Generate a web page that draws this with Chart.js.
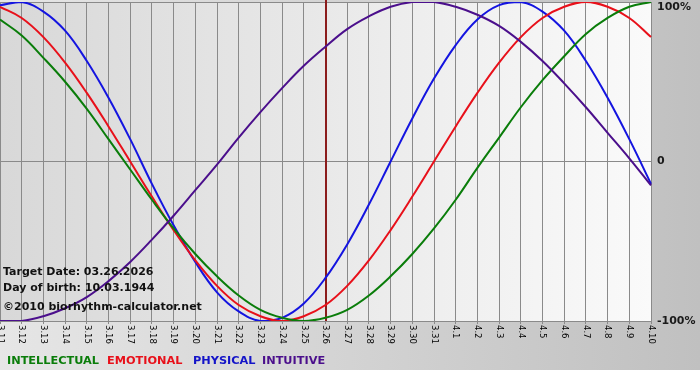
<!DOCTYPE html>
<html><head><meta charset="utf-8">
<script src="https://cdn.jsdelivr.net/npm/chart.js@4"></script>
<style>html,body{margin:0;padding:0;background:#fff}canvas{display:block}</style>
</head><body>
<canvas id="c" width="700" height="380"></canvas>
<script>
const days = ['3.11','3.12','3.13','3.14','3.15','3.16','3.17','3.18','3.19','3.20','3.21','3.22','3.23','3.24','3.25','3.26','3.27','3.28','3.29','3.30','3.31','4.1','4.2','4.3','4.4','4.5','4.6','4.7','4.8','4.9','4.10'];
const intellectual = [89,79,65,50,33,14,-5,-24,-42,-58,-72,-84,-93,-98,-100,-98,-93,-84,-72,-58,-42,-24,-4,15,34,51,66,80,90,97,100];
const emotional = [97,90,78,62,43,22,0,-22,-43,-62,-78,-90,-97,-100,-97,-90,-78,-62,-43,-22,0,22,43,62,78,90,97,100,97,90,78];
const physical = [98,100,94,82,63,40,14,-14,-40,-63,-82,-94,-100,-98,-89,-73,-52,-27,0,27,52,73,89,98,100,94,82,63,40,14,-14];
const intuitive = [-100,-100,-97,-92,-85,-75,-63,-49,-34,-18,-2,15,31,46,60,72,83,91,97,100,100,97,92,85,75,63,49,34,18,2,-15];
const yTickValues = [100, 0, -100];
const yTickLabels = ['100%', '0', '-100%'];
const legendNames = ['INTELLECTUAL', 'EMOTIONAL', 'PHYSICAL', 'INTUITIVE'];
const legendColors = ['#0a7d0a', '#e8101a', '#1414c8', '#4b0f8c'];
const targetDay = '3.26';
const infoLines = ['Target Date: 03.26.2026', 'Day of birth: 10.03.1944', '\u00a92010 biorhythm-calculator.net'];

const FONT = '"DejaVu Sans", Verdana, sans-serif';

const decor = {
  id: 'decor',
  beforeDraw(chart) {
    const ctx = chart.ctx, a = chart.chartArea;
    ctx.save();
    ctx.fillStyle = '#ffffff';
    ctx.fillRect(0, 0, 700, 380);
    let g = ctx.createLinearGradient(0, 0, 700, 0);
    g.addColorStop(0, '#e6e6e6');
    g.addColorStop(1, '#c0c0c0');
    ctx.fillStyle = g;
    ctx.fillRect(0, 0, 700, 370);
    g = ctx.createLinearGradient(a.left, 0, a.right, 0);
    g.addColorStop(0, '#d8d8d8');
    g.addColorStop(1, '#fafafa');
    ctx.fillStyle = g;
    ctx.fillRect(a.left, a.top, a.right - a.left, a.bottom - a.top);
    ctx.restore();
  },
  beforeDatasetsDraw(chart) {
    const ctx = chart.ctx, a = chart.chartArea;
    const x = Math.round(chart.scales.x.getPixelForValue(days.indexOf(targetDay)));
    ctx.save();
    ctx.strokeStyle = '#8b1c1c';
    ctx.lineWidth = 2;
    ctx.beginPath();
    ctx.moveTo(x, 0);
    ctx.lineTo(x, a.bottom);
    ctx.stroke();
    ctx.restore();
  },
  afterDraw(chart) {
    const ctx = chart.ctx, a = chart.chartArea;
    const xs = chart.scales.x, ys = chart.scales.y;
    ctx.save();
    ctx.fillStyle = '#000';
    ctx.font = '8.5px ' + FONT;
    ctx.textAlign = 'left';
    ctx.textBaseline = 'middle';
    days.forEach((d, i) => {
      const x = xs.getPixelForValue(i);
      ctx.save();
      ctx.translate(x, a.bottom + 4);
      ctx.rotate(Math.PI / 2);
      ctx.fillText(d, 0, 0);
      ctx.restore();
    });
    ctx.font = 'bold 11px ' + FONT;
    ctx.fillStyle = '#1a1a1a';
    yTickValues.forEach((v, i) => {
      let y = ys.getPixelForValue(v);
      if (i === 0) y += 5;
      ctx.fillText(yTickLabels[i], a.right + 6, y);
    });
    ctx.font = 'bold 11px ' + FONT;
    ctx.fillStyle = '#111';
    const infoY = [272, 288, 307];
    infoLines.forEach((t, i) => ctx.fillText(t, 3, infoY[i]));
    ctx.font = 'bold 11.3px ' + FONT;
    const legendX = [7, 107, 193, 262];
    legendNames.forEach((n, i) => {
      ctx.fillStyle = legendColors[i];
      ctx.fillText(n, legendX[i], 361);
    });
    ctx.restore();
  }
};

const mk = (label, data, color) => ({
  label, data, borderColor: color, backgroundColor: color,
  borderWidth: 2, pointRadius: 0, tension: 0.4, fill: false
});

new Chart(document.getElementById('c'), {
  type: 'line',
  data: {
    labels: days,
    datasets: [
      mk('INTUITIVE', intuitive, '#4b0f8c'),
      mk('INTELLECTUAL', intellectual, '#0a7d0a'),
      mk('EMOTIONAL', emotional, '#e8101a'),
      mk('PHYSICAL', physical, '#1414e0')
    ]
  },
  options: {
    responsive: false,
    animation: false,
    devicePixelRatio: 1,
    layout: { padding: { left: 0, right: 49, top: 2, bottom: 56 } },
    plugins: { legend: { display: false }, tooltip: { enabled: false } },
    scales: {
      x: {
        offset: false,
        grid: { color: '#8a8a8a', lineWidth: 1, drawTicks: true, tickLength: 3 },
        border: { display: false },
        ticks: { display: false }
      },
      y: {
        position: 'right',
        min: -100, max: 100,
        afterBuildTicks: (s) => { s.ticks = yTickValues.map(v => ({ value: v })); },
        grid: { color: '#8a8a8a', lineWidth: 1, drawTicks: false },
        border: { display: false },
        ticks: { display: false }
      }
    }
  },
  plugins: [decor]
});
</script>
</body></html>
